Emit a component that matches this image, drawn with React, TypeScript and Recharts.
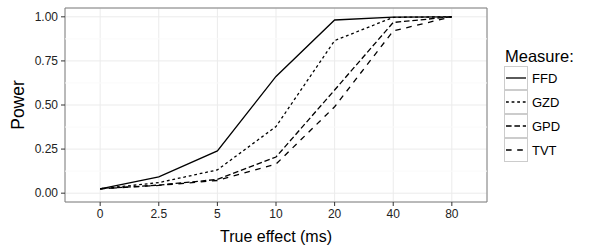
import React from "react";
import {
  LineChart,
  Line,
  XAxis,
  YAxis,
  CartesianGrid,
  ReferenceLine,
  ReferenceArea,
  Legend,
} from "recharts";

// ── Data ────────────────────────────────────────────────────────────────────

const effects = ["0", "2.5", "5", "10", "20", "40", "80"];
const ffd = [0.025, 0.092, 0.24, 0.662, 0.982, 0.998, 1.0];
const gzd = [0.025, 0.06, 0.132, 0.378, 0.865, 0.997, 1.0];
const gpd = [0.025, 0.046, 0.078, 0.205, 0.585, 0.968, 1.0];
const tvt = [0.025, 0.044, 0.072, 0.165, 0.49, 0.92, 1.0];

const measures = ["FFD", "GZD", "GPD", "TVT"];
const dashes = ["", "2.8 2.8", "5.6 2.8", "5.6 5.6"];
const yTicks = [0, 0.25, 0.5, 0.75, 1];
const yMinor = [0.125, 0.375, 0.625, 0.875];

const data = effects.map((e, i) => ({
  idx: i,
  effect: e,
  FFD: ffd[i],
  GZD: gzd[i],
  GPD: gpd[i],
  TVT: tvt[i],
}));

const FONT = "'Liberation Sans', Arial, Helvetica, sans-serif";

// ── Legend ──────────────────────────────────────────────────────────────────

function MeasureLegend() {
  return (
    <div style={{ fontFamily: FONT, color: "#000" }}>
      <div style={{ fontSize: 16.5, lineHeight: "20px", marginBottom: 0, marginLeft: 1 }}>Measure:</div>
      {measures.map((m, i) => (
        <div key={m} style={{ display: "flex", alignItems: "center", height: 24 }}>
          <svg width={24} height={24} style={{ display: "block" }}>
            <rect x={0.5} y={0.5} width={23} height={23} fill="#fff" stroke="#cccccc" />
            <line
              x1={2}
              x2={22}
              y1={12}
              y2={12}
              stroke="#000"
              strokeWidth={1.3}
              strokeDasharray={dashes[i] || undefined}
            />
          </svg>
          <span style={{ fontSize: 13, marginLeft: 4 }}>{m}</span>
        </div>
      ))}
    </div>
  );
}

// y-axis title, centred on the panel
function PowerLabel(props: any) {
  const vb = props.viewBox || {};
  const cx = vb.x + 18;
  const cy = vb.y + vb.height / 2;
  return (
    <text
      x={cx}
      y={cy}
      transform={`rotate(-90, ${cx}, ${cy})`}
      textAnchor="middle"
      dominantBaseline="central"
      fontSize={17.5}
      fontFamily={FONT}
      fill="#000"
    >
      Power
    </text>
  );
}

// ── Chart ───────────────────────────────────────────────────────────────────

export default function App() {
  return (
    <div style={{ position: "absolute", left: 0, top: 0, background: "#fff" }}>
      <LineChart width={600} height={250} data={data} margin={{ top: 8, right: 113, bottom: 0, left: 0 }}>
        {yMinor.map((v) => (
          <ReferenceLine key={v} y={v} stroke="#fafafa" strokeWidth={1} />
        ))}
        <CartesianGrid stroke="#ebebeb" strokeWidth={1} />
        <XAxis
          dataKey="idx"
          type="number"
          domain={[-0.6, 6.6]}
          ticks={effects.map((_, i) => i)}
          tickFormatter={(v) => effects[v]}
          allowDataOverflow
          height={48}
          axisLine={false}
          tickSize={4}
          tickMargin={3}
          tickLine={{ stroke: "#333" }}
          tick={{ fontSize: 12, fill: "#222", fontFamily: FONT }}
          label={{
            value: "True effect (ms)",
            position: "insideBottom",
            offset: 8,
            style: { fontSize: 16, fill: "#000", fontFamily: FONT },
          }}
        />
        <YAxis
          type="number"
          domain={[-0.05, 1.05]}
          ticks={yTicks}
          allowDataOverflow
          width={65}
          axisLine={false}
          tickSize={4}
          tickMargin={3}
          tickLine={{ stroke: "#333" }}
          tickFormatter={(v) => v.toFixed(2)}
          tick={{ fontSize: 12, fill: "#222", fontFamily: FONT }}
          label={<PowerLabel />}
        />
        <ReferenceArea
          x1={-0.6}
          x2={6.6}
          y1={-0.05}
          y2={1.05}
          fill="none"
          stroke="#7f7f7f"
          strokeWidth={1}
          ifOverflow="visible"
        />
        {measures.map((m, i) => (
          <Line
            key={m}
            dataKey={m}
            type="linear"
            stroke="#000"
            strokeWidth={1.3}
            strokeDasharray={dashes[i] || undefined}
            dot={false}
            activeDot={false}
            isAnimationActive={false}
          />
        ))}
        <Legend
          layout="vertical"
          align="center"
          verticalAlign="middle"
          content={() => <MeasureLegend />}
          wrapperStyle={{ left: 504, top: 46, width: 90, height: "auto" }}
        />
      </LineChart>
    </div>
  );
}
